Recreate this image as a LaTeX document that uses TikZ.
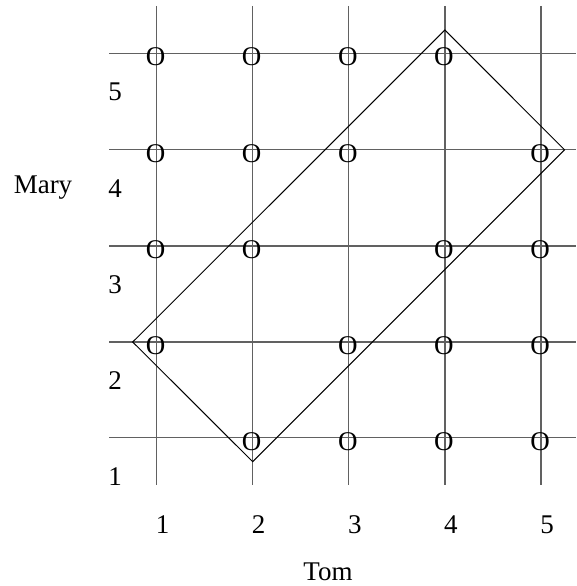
\documentclass[tikz,border=0pt]{standalone}
\usepackage{fontspec}
\setmainfont{Liberation Serif}
\begin{document}
\begin{tikzpicture}[x=1pt,y=-1pt,
  gridline/.style={draw=black!62, line width=1.3pt},
  lbl/.style={inner sep=0pt, font=\fontsize{27}{32}\selectfont},
  omark/.style={inner sep=0pt, font=\fontsize{27}{32}\selectfont},
  region/.style={draw=black, line width=1pt, line join=miter}]
\useasboundingbox (0,0) rectangle (576,586);
% grid
\foreach \i/\x in {1/156.5,2/252.7,3/348.8,4/444.9,5/541}{
  \draw[gridline] (\x,6) -- (\x,485);
  \node[lbl] (c\i) at (\x+6,525) {\i};
  \foreach \j/\y in {5/53.5,4/149.8,3/246,2/342,1/437.8}{
    \coordinate (g\i\j) at (\x,\y);
  }
}
\foreach \j/\y in {5/53.5,4/149.8,3/246,2/342,1/437.8}{
  \draw[gridline] (109,\y) -- (576,\y);
  \node[lbl] (r\j) at (115,\y+38.5) {\j};
}
\node[lbl] (mary) at (43,188) {Mary};
\node[lbl] (tom) at (328,572) {Tom};
% O marks
\foreach \p in {15,25,35,45, 14,24,34,54, 13,23,43,53, 12,32,42,52, 21,31,41,51}{
  \node[omark] (o\p) at ([shift={(-1,3.5)}]g\p) {O};
}
% rotated rectangle
\coordinate (rl) at (132.7,342);
\coordinate (rb) at (252.7,461.7);
\coordinate (rr) at (564.5,149.8);
\coordinate (rt) at (444.9,30);
\draw[region] (rl) -- (rb) -- (rr) -- (rt) -- cycle;
\end{tikzpicture}
\end{document}
